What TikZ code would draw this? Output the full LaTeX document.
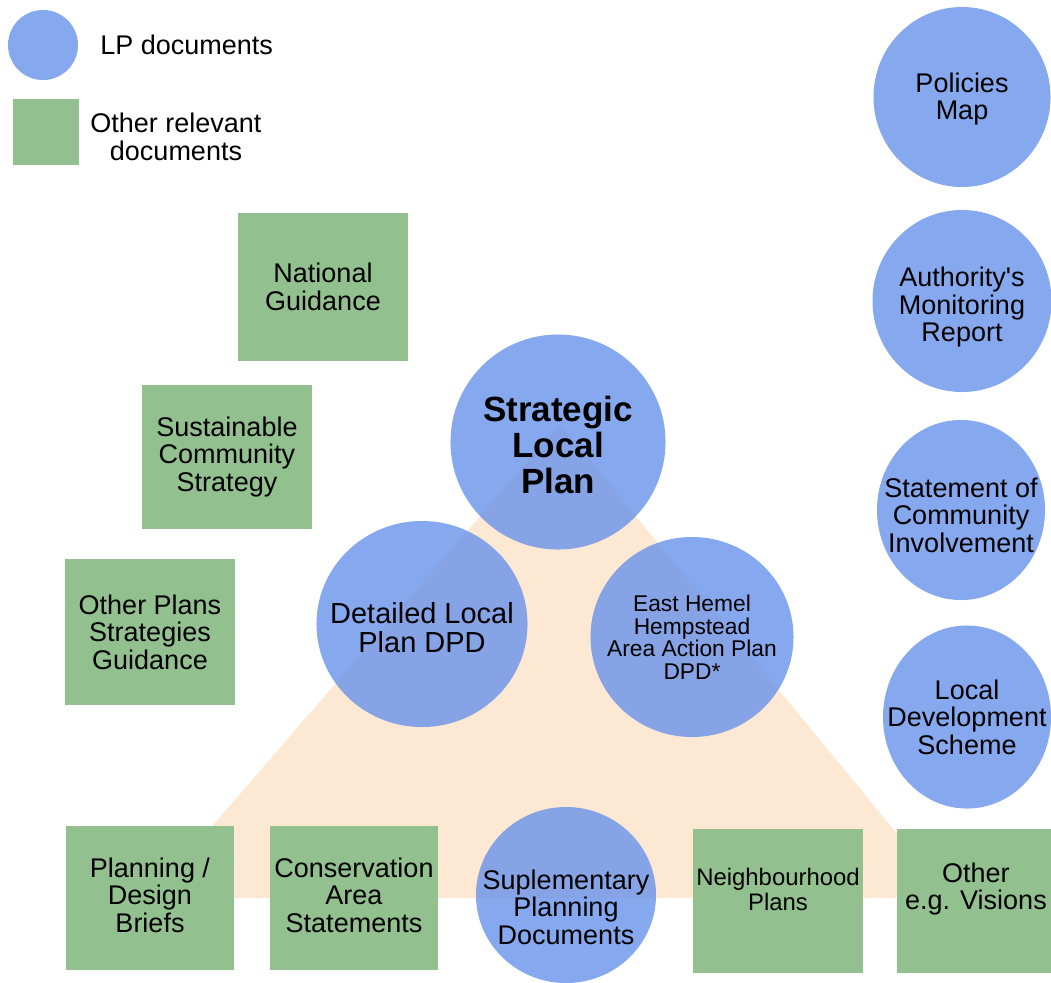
\documentclass[tikz,border=0pt]{standalone}
\usepackage{fontspec}
\setmainfont{Liberation Sans}
\definecolor{lpblue}{RGB}{104,146,234}
\definecolor{relgreen}{RGB}{147,192,143}
\definecolor{peach}{RGB}{253,233,211}
\usetikzlibrary{shapes.geometric,positioning}

\begin{document}
\begin{tikzpicture}[x=0.025cm, y=-0.025cm,
    lpdoc/.style={ellipse, fill=lpblue, fill opacity=0.8, inner sep=0pt},
    lptext/.style={inner sep=0pt, align=center, text opacity=1,
                   font=\fontsize{19.2pt}{19.6pt}\selectfont},
    reldoc/.style={rectangle, fill=relgreen, inner sep=0pt, minimum width=4.25cm,
                   minimum height=3.6cm, align=center, font=\fontsize{19.2pt}{19.6pt}\selectfont},
    keytxt/.style={inner sep=0pt, align=center, font=\fontsize{19.2pt}{19.6pt}\selectfont}
  ]
    \useasboundingbox (0,0) rectangle (1051,982);

    % Triangle behind the plan documents
    \fill[peach] (150,898) -- (560,424) -- (950,898) -- cycle;

    % Key
    \node[lpdoc, minimum width=1.75cm, minimum height=1.75cm] (lpkey) at (43,45) {};
    \node[keytxt, anchor=west] (lptxt) at (100,45) {LP documents};
    \node[reldoc, minimum width=1.65cm, minimum height=1.625cm] (relkey) at (46,132) {};
    \node[keytxt] (reltxt) at (176,137) {Other relevant\\documents};

    % Other relevant documents
    \node[reldoc, minimum height=3.675cm] (natg) at (323,287) {National\\Guidance};
    \node[reldoc] (scs)  at (227,457) {Sustainable\\Community\\Strategy};
    \node[reldoc, minimum height=3.65cm] (opsg) at (150,632) {Other Plans\\Strategies\\Guidance};
    \node[reldoc, minimum width=4.175cm,
          label={[keytxt, yshift=2pt]center:{Planning /\\Design\\Briefs}}] (pdb) at (150,898) {};
    \node[reldoc, minimum width=4.175cm,
          label={[keytxt, yshift=2pt]center:{Conservation\\Area\\Statements}}] (cas) at (354,898) {};
    \node[reldoc, label={[keytxt, yshift=8.5pt, font=\fontsize{17pt}{17.8pt}\selectfont]center:{Neighbourhood\\Plans}}]
        (nbh) at (778,901) {};
    \node[reldoc, label={[keytxt, yshift=8.5pt, xshift=-4.3pt]center:{Other\\e.g. Visions}}]
        (oth) at (982,901) {};

    % LP documents
    \node[lpdoc, minimum size=5.375cm,
          label={[lptext, yshift=-2pt, font=\bfseries\fontsize{24.9pt}{25.6pt}\selectfont]center:{Strategic\\Local\\Plan}}]
        (slp) at (558,442) {};
    \node[lpdoc, minimum width=5.275cm, minimum height=5.15cm,
          label={[lptext, yshift=-2.5pt, font=\fontsize{20.6pt}{20.6pt}\selectfont]center:{Detailed Local\\Plan DPD}}]
        (dlp) at (422,624) {};
    \node[lpdoc, minimum width=5.075cm, minimum height=5cm,
          label={[lptext, font=\fontsize{16.2pt}{16pt}\selectfont]center:{East Hemel\\Hempstead\\Area Action Plan\\DPD*}}]
        (ehh) at (692,637) {};
    \node[lpdoc, minimum width=4.5cm, minimum height=4.4cm,
          label={[lptext, yshift=-8.5pt]center:{Suplementary\\Planning\\Documents}}]
        (spd) at (566,895) {};

    \node[lpdoc, minimum width=4.425cm, minimum height=4.5cm,
          label={[lptext, yshift=-1.5pt]center:{Policies\\Map}}] (pmap) at (962,97) {};
    \node[lpdoc, minimum width=4.475cm, minimum height=4.55cm,
          label={[lptext, yshift=-4.5pt]center:{Authority\textquotesingle s\\Monitoring\\Report}}] (amr) at (962,301) {};
    \node[lpdoc, minimum width=4.2cm, minimum height=4.5cm,
          label={[lptext, yshift=-3.5pt]center:{Statement of\\Community\\Involvement}}] (sci) at (961,510) {};
    \node[lpdoc, minimum width=4.2cm, minimum height=4.575cm,
          label={[lptext]center:{Local\\Development\\Scheme}}] (lds) at (967,717) {};
\end{tikzpicture}
\end{document}
